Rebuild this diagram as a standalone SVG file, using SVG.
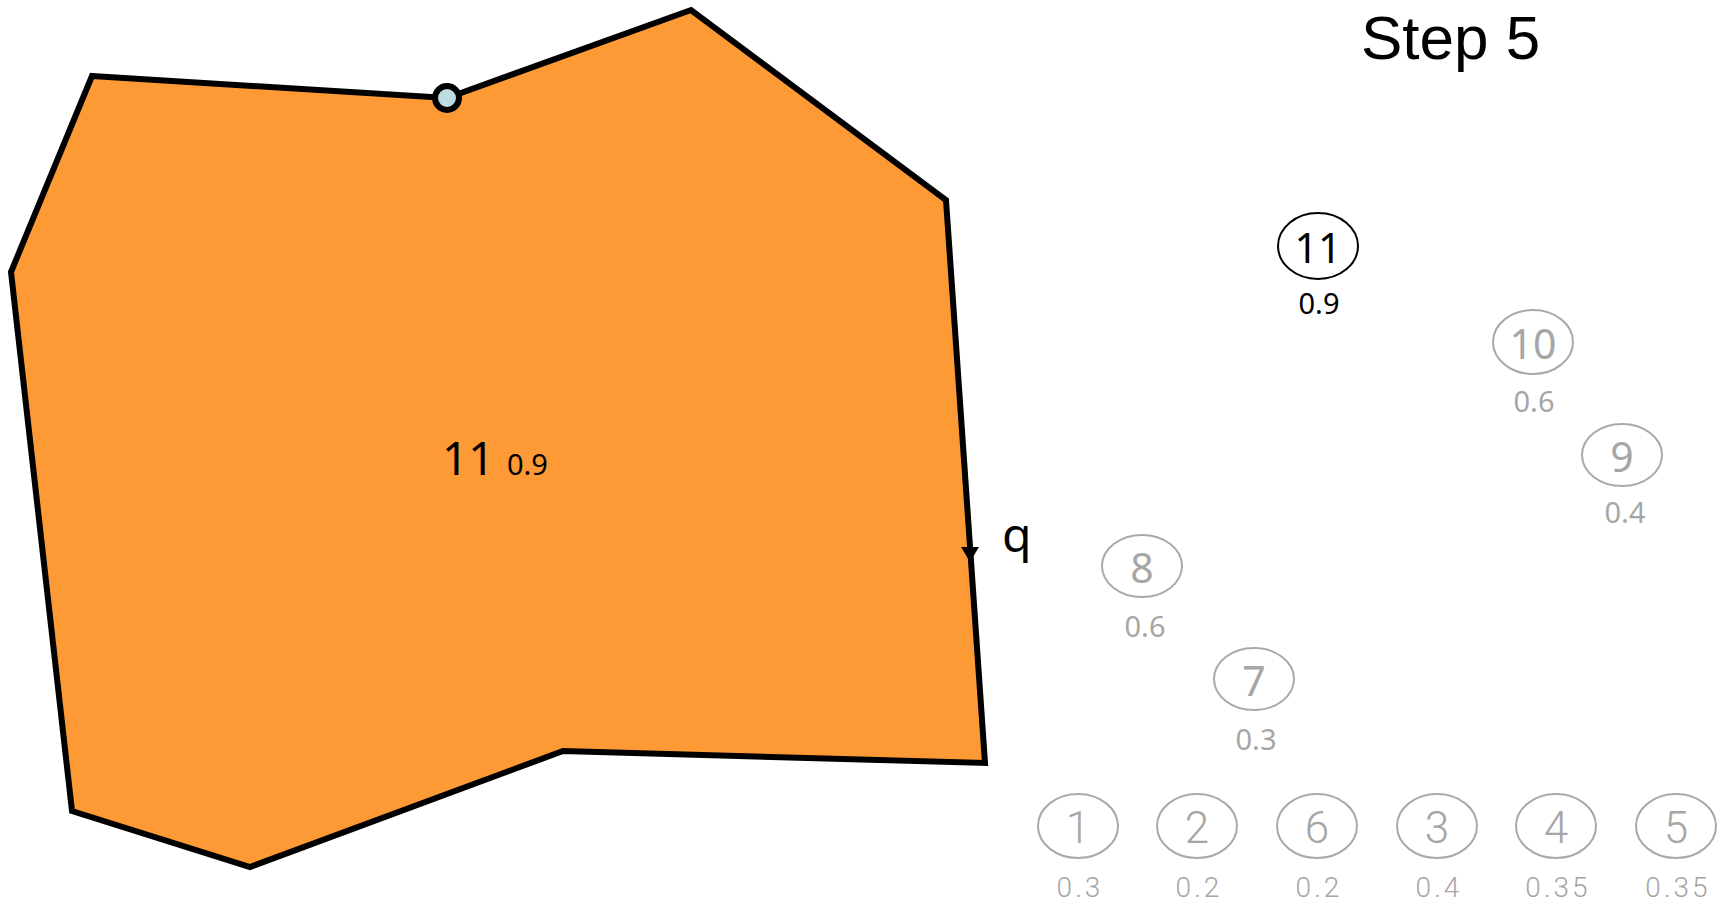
<svg xmlns="http://www.w3.org/2000/svg" width="1717" height="903" viewBox="0 0 1717 903">
<defs>
<style>
.shape{fill:#fe9a35;stroke:#000;stroke-width:6;stroke-linejoin:miter}
.ell{fill:none;stroke:#a9a9a9;stroke-width:2}
.ellb{fill:none;stroke:#000;stroke-width:2}
.num{font-family:"Noto Sans","Open Sans",sans-serif;font-size:41px;text-anchor:middle;fill:#a6a6a6}
.val{font-family:"Noto Sans","Open Sans",sans-serif;font-size:29px;text-anchor:middle;fill:#a6a6a6}
.numc{font-family:Roboto,sans-serif;font-weight:300;font-size:44px;text-anchor:middle;fill:#a6a6a6}
.valc{font-family:Roboto,sans-serif;font-weight:300;font-size:28px;letter-spacing:3px;text-anchor:middle;fill:#a6a6a6}
.blk{fill:#000}
</style>
</defs>
<rect width="1717" height="903" fill="#fff"/>
<g id="region11">
<polygon class="shape" points="92,76 447,98 691,10 946,200 985,763 563,751 250,867 72,811 11,272"/>
<text x="442" y="475" font-family="Noto Sans,Open Sans,sans-serif" font-size="46" fill="#000">11</text>
<text x="507" y="475" font-family="Noto Sans,Open Sans,sans-serif" font-size="29" fill="#000">0.9</text>
</g>
<g id="vertex">
<circle cx="447" cy="98" r="12" fill="#bcdde0" stroke="#000" stroke-width="6"/>
</g>
<g id="connectors">
<polygon points="961,547 979,547 970,562" fill="#000"/>
<text x="1002" y="552" font-family="Noto Sans,Open Sans,sans-serif" font-size="48" fill="#000">q</text>
</g>
<g id="title">
<text x="1361" y="59" font-family="Liberation Sans,Arial,sans-serif" font-size="62" fill="#000">Step 5</text>
</g>
<g id="n11">
<ellipse class="ellb" cx="1318" cy="246" rx="40" ry="33"/>
<text class="num blk" x="1318" y="263">11</text>
<text class="val blk" x="1319" y="314">0.9</text>
</g>
<g id="n10">
<ellipse class="ell" cx="1533" cy="342" rx="40" ry="32"/>
<text class="num" x="1533" y="359">10</text>
<text class="val" x="1534" y="412">0.6</text>
</g>
<g id="n9">
<ellipse class="ell" cx="1622" cy="455" rx="40" ry="31"/>
<text class="num" x="1622" y="472">9</text>
<text class="val" x="1625" y="523">0.4</text>
</g>
<g id="n8">
<ellipse class="ell" cx="1142" cy="566" rx="40" ry="31"/>
<text class="num" x="1142" y="583">8</text>
<text class="val" x="1145" y="637">0.6</text>
</g>
<g id="n7">
<ellipse class="ell" cx="1254" cy="679" rx="40" ry="31"/>
<text class="num" x="1254" y="696">7</text>
<text class="val" x="1256" y="750">0.3</text>
</g>
<g id="n1">
<ellipse class="ell" cx="1078" cy="826" rx="40" ry="32"/>
<text class="numc" x="1078" y="843">1</text>
<text class="valc" x="1080" y="897">0.3</text>
</g>
<g id="n2">
<ellipse class="ell" cx="1197" cy="826" rx="40" ry="32"/>
<text class="numc" x="1197" y="843">2</text>
<text class="valc" x="1199" y="897">0.2</text>
</g>
<g id="n6">
<ellipse class="ell" cx="1317" cy="826" rx="40" ry="32"/>
<text class="numc" x="1317" y="843">6</text>
<text class="valc" x="1319" y="897">0.2</text>
</g>
<g id="n3">
<ellipse class="ell" cx="1437" cy="826" rx="40" ry="32"/>
<text class="numc" x="1437" y="843">3</text>
<text class="valc" x="1439" y="897">0.4</text>
</g>
<g id="n4">
<ellipse class="ell" cx="1556" cy="826" rx="40" ry="32"/>
<text class="numc" x="1556" y="843">4</text>
<text class="valc" x="1558" y="897">0.35</text>
</g>
<g id="n5">
<ellipse class="ell" cx="1676" cy="826" rx="40" ry="32"/>
<text class="numc" x="1676" y="843">5</text>
<text class="valc" x="1678" y="897">0.35</text>
</g>
</svg>
